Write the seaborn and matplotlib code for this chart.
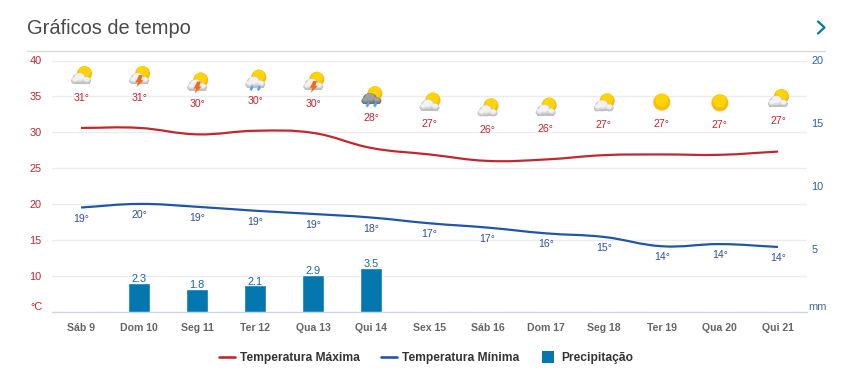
import numpy as np
import pandas as pd
import matplotlib.pyplot as plt
import seaborn as sns
from matplotlib.lines import Line2D
from matplotlib.path import Path
from matplotlib.patches import Circle, Ellipse, PathPatch, Polygon, Rectangle
from matplotlib.transforms import ScaledTranslation

dias = ['Sáb 9', 'Dom 10', 'Seg 11', 'Ter 12', 'Qua 13', 'Qui 14', 'Sex 15',
        'Sáb 16', 'Dom 17', 'Seg 18', 'Ter 19', 'Qua 20', 'Qui 21']
temp_max = [30.6, 30.6, 29.7, 30.2, 29.9, 27.8, 26.9, 26.0, 26.2, 26.8, 26.9, 26.85, 27.3]
temp_min = [19.5, 20.0, 19.6, 19.05, 18.6, 18.1, 17.3, 16.7, 15.9, 15.4, 14.1, 14.4, 14.0]
precip = [0, 2.3, 1.8, 2.1, 2.9, 3.5, 0, 0, 0, 0, 0, 0, 0]
rotulo_max = ['31°', '31°', '30°', '30°', '30°', '28°', '27°', '26°', '26°', '27°', '27°', '27°', '27°']
rotulo_min = ['19°', '20°', '19°', '19°', '19°', '18°', '17°', '17°', '16°', '15°', '14°', '14°', '14°']
nivel_icone = [34.9, 34.9, 34.0, 34.4, 34.1, 32.1, 31.2, 30.4, 30.5, 31.1, 31.2, 31.1, 31.7]
icones = ['nuvem', 'raio', 'raio', 'chuva', 'raio', 'escura', 'nuvem',
          'nuvem', 'nuvem', 'nuvem', 'sol', 'sol', 'nuvem']
ticks_temp = [10, 15, 20, 25, 30, 35, 40]
ticks_mm = [5, 10, 15, 20]

VERMELHO = '#c1272d'
AZUL = '#1f55a6'
AZUL_BARRA = '#0377ae'
W, H = 863, 387


def px(v):
    return v * 0.72


def suavizar(line, ax):
    # mesma curva spline do grafico original, bezier pelos pontos da serie
    xy = line.get_xydata()
    verts = [xy[0]]
    codes = [Path.MOVETO]
    n = len(xy)
    ctrl = []
    for i in range(n):
        p = xy[i]
        a = xy[max(i - 1, 0)]
        b = xy[min(i + 1, n - 1)]
        esq = (1.5 * p + a) / 2.5
        dir_ = (1.5 * p + b) / 2.5
        if 0 < i < n - 1 and dir_[0] != esq[0]:
            m = (dir_[1] - esq[1]) / (dir_[0] - esq[0])
            esq = np.array([esq[0], p[1] + m * (esq[0] - p[0])])
            dir_ = np.array([dir_[0], p[1] + m * (dir_[0] - p[0])])
        ctrl.append((esq, dir_))
    for i in range(1, n):
        verts += [ctrl[i - 1][1], ctrl[i][0], xy[i]]
        codes += [Path.CURVE4] * 3
    ax.add_patch(PathPatch(Path(verts, codes), fill=False, ec=line.get_color(),
                           lw=line.get_linewidth(), capstyle='butt', zorder=3))
    line.remove()


def sol(ax, tr, x, y, r):
    ax.add_patch(Circle((x, y), r, fc='#fbb917', ec='none', transform=tr, clip_on=False, zorder=4))
    ax.add_patch(Circle((x, y + r * 0.22), r * 0.78, fc='#ffd400', ec='none', transform=tr, clip_on=False, zorder=4))


def nuvem(ax, tr, cores):
    # lobos da nuvem, escuro embaixo e claro por cima
    for k, cor in enumerate(cores):
        enc = 1 - 0.17 * k
        sobe = 0.9 * k
        for cx, cy, w, h in ((-6, 16.2, 8, 6.4), (-1.5, 18.5, 14, 11), (5.5, 16.2, 9, 6.4)):
            ax.add_patch(Ellipse((cx, cy + sobe), w * enc, h * enc, fc=cor, ec='none',
                                 transform=tr, clip_on=False, zorder=5))
        if k == 0:
            ax.add_patch(Rectangle((-8.5, 13), 17, 3, fc=cor, ec='none', transform=tr, clip_on=False, zorder=5))


def icone(ax, i, tipo, y):
    tr = ScaledTranslation(i, y, ax.transData)
    if tipo == 'sol':
        sol(ax, tr, 0, 21.5, 8.5)
        return
    sol(ax, tr, 3.5, 23.5, 7.5)
    if tipo == 'escura':
        nuvem(ax, tr, ['#707070', '#8a8a8a', '#a0a0a0'])
    else:
        nuvem(ax, tr, ['#bfbfbf', '#dadada', '#f2f2f2'])
    if tipo == 'raio':
        ax.add_patch(Polygon([(0, 22), (3.5, 22), (2, 17), (4.5, 17), (-2.5, 10), (-1, 15), (-3.5, 15)],
                             fc='#f4691e', ec='none', transform=tr, clip_on=False, zorder=6))
    if tipo in ('chuva', 'escura'):
        for dx in (-4, 3.5):
            ax.add_patch(Polygon([(dx + 1, 16), (dx + 2, 12.5), (dx, 9.5), (dx - 1.8, 11.5)],
                                 fc='#4da6ff', ec='none', transform=tr, clip_on=False, zorder=6))


sns.set_theme(style='white')
plt.rcParams['font.family'] = ['Liberation Sans', 'DejaVu Sans']

df = pd.DataFrame({'dia': dias, 'max': temp_max, 'min': temp_min, 'mm': precip})

fig = plt.figure(figsize=(W / 100, H / 100), dpi=100)
ax = fig.add_axes([52 / W, 1 - 311.5 / H, 755 / W, 251 / H])

sns.lineplot(data=df, x='dia', y='max', color=VERMELHO, linewidth=px(2.2), sort=False, ax=ax)
sns.lineplot(data=df, x='dia', y='min', color=AZUL, linewidth=px(2.2), sort=False, ax=ax)
for l in list(ax.lines):
    suavizar(l, ax)

ax2 = ax.twinx()
sns.barplot(data=df, x='dia', y='mm', color=AZUL_BARRA, saturation=1, width=0.38, ax=ax2, zorder=2)
ax2.bar_label(ax2.containers[0], labels=[f'{v}' if v else '' for v in precip], padding=-1,
              fontsize=px(11), color='#17699f')

ax.set_xlim(-0.5, 12.5)
ax.set_ylim(5, 40)
ax2.set_ylim(0, 20)
ax.set_yticks(ticks_temp)
ax2.set_yticks(ticks_mm)
ax.set_xlabel('')
ax.set_ylabel('')
ax2.set_xlabel('')
ax2.set_ylabel('')
ax.grid(axis='y', color='#ececec', lw=1)
ax.set_axisbelow(True)
ax2.grid(False)
for s in ('top', 'left', 'right'):
    ax.spines[s].set_visible(False)
    ax2.spines[s].set_visible(False)
ax2.spines['bottom'].set_visible(False)
ax.spines['bottom'].set_color('#ccd6eb')
ax.spines['bottom'].set_linewidth(1)
ax.tick_params(axis='y', length=0, pad=px(10.5), labelsize=px(11), labelcolor=VERMELHO)
ax.tick_params(axis='x', length=px(9), width=1, color='#ccd6eb', pad=px(2.5), labelsize=px(10.5),
               labelcolor='#666666')
for t in ax.get_xticklabels():
    t.set_fontweight('bold')
ax2.tick_params(axis='y', length=0, pad=px(4.5), labelsize=px(11), labelcolor='#2a62aa')
ax2.tick_params(axis='x', length=0, labelbottom=False)
for t in ax.get_yticklabels() + ax2.get_yticklabels():
    t.set_verticalalignment('center_baseline')

for i in range(len(dias)):
    ax.annotate(rotulo_max[i], (i, nivel_icone[i]), xytext=(0, -px(0.8)), textcoords='offset points',
                ha='center', va='center', fontsize=px(10.5), color=VERMELHO, annotation_clip=False)
    ax.annotate(rotulo_min[i], (i, temp_min[i]), xytext=(0, -px(11)), textcoords='offset points',
                ha='center', va='center', fontsize=px(10.5), color='#2f4f9f')
    icone(ax, i, icones[i], nivel_icone[i])

fig.text(30 / W, 1 - 307 / H, '°C', fontsize=px(11), color=VERMELHO, va='center')
fig.text(808 / W, 1 - 307 / H, 'mm', fontsize=px(11), color='#4a6a9c', va='center')
fig.text(27 / W, 1 - 28 / H, 'Gráficos de tempo', fontsize=px(20), color='#4a4a4a', va='center')
fig.add_artist(Line2D([27 / W, 825 / W], [1 - 50.5 / H] * 2, color='#d9d9d9', lw=px(1.3)))
fig.add_artist(Line2D([818 / W, 824.5 / W, 818 / W], [1 - 21.5 / H, 1 - 27.5 / H, 1 - 33.5 / H],
                      color=AZUL_BARRA, lw=px(2.2)))

handles = [Line2D([], [], color=VERMELHO, lw=px(2.6)),
           Line2D([], [], color=AZUL, lw=px(2.6)),
           Line2D([], [], color=AZUL_BARRA, lw=0, marker='s', markersize=px(12), markeredgewidth=0)]
leg = fig.legend(handles, ['Temperatura Máxima', 'Temperatura Mínima', 'Precipitação'], ncols=3,
                 loc='center', bbox_to_anchor=(426 / W, 1 - 358.5 / H), frameon=False, numpoints=1,
                 handlelength=16 / 12, handletextpad=5 / 12, columnspacing=21 / 12,
                 prop={'size': px(12), 'weight': 'bold'}, labelcolor='#333333')

fig.savefig('out.png', dpi=100)
